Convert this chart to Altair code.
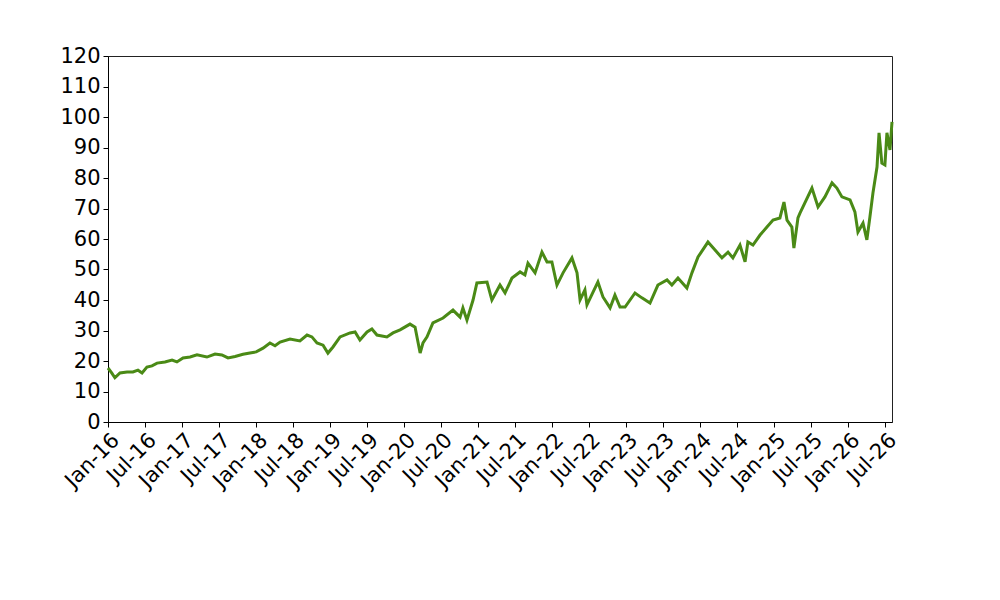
import altair as alt
import pandas as pd

dates = [
    "2016-01-01", "2016-01-20", "2016-02-04", "2016-02-29", "2016-04-04", "2016-05-03",
    "2016-05-28", "2016-06-17", "2016-07-11", "2016-08-05", "2016-08-30", "2016-10-08",
    "2016-11-12", "2016-12-06", "2017-01-05", "2017-02-09", "2017-03-15", "2017-05-03",
    "2017-06-12", "2017-07-16", "2017-08-15", "2017-09-19", "2017-10-28", "2017-12-01",
    "2018-01-01", "2018-02-04", "2018-03-10", "2018-04-04", "2018-04-29", "2018-06-17",
    "2018-08-05", "2018-09-09", "2018-10-03", "2018-10-28", "2018-11-27", "2018-12-21",
    "2019-01-15", "2019-02-19", "2019-04-09", "2019-05-04", "2019-05-28", "2019-07-02",
    "2019-07-26", "2019-08-20", "2019-10-08", "2019-11-07", "2019-12-12", "2020-01-30",
    "2020-02-24", "2020-03-20", "2020-04-03", "2020-04-23", "2020-05-22", "2020-07-11",
    "2020-08-29", "2020-10-03", "2020-10-17", "2020-11-06", "2020-12-06", "2020-12-25",
    "2021-02-13", "2021-03-09", "2021-04-18", "2021-05-13", "2021-06-16", "2021-07-26",
    "2021-08-19", "2021-09-03", "2021-10-08", "2021-11-11", "2021-12-06", "2021-12-30",
    "2022-01-24", "2022-02-23", "2022-04-08", "2022-05-03", "2022-05-18", "2022-06-11",
    "2022-06-21", "2022-07-21", "2022-08-14", "2022-09-08", "2022-10-13", "2022-11-06",
    "2022-12-01", "2022-12-26", "2023-02-13", "2023-03-19", "2023-04-28", "2023-06-06",
    "2023-07-21", "2023-08-14", "2023-09-13", "2023-10-27", "2023-11-21", "2023-12-21",
    "2024-02-08", "2024-03-14", "2024-04-17", "2024-05-17", "2024-06-10", "2024-07-15",
    "2024-08-09", "2024-08-23", "2024-09-17", "2024-10-22", "2024-11-25", "2024-12-25",
    "2025-01-28", "2025-02-17", "2025-03-04", "2025-03-28", "2025-04-07", "2025-04-27",
    "2025-05-07", "2025-07-05", "2025-08-04", "2025-09-07", "2025-10-12", "2025-11-05",
    "2025-11-30", "2026-01-09", "2026-02-02", "2026-02-17", "2026-03-14", "2026-04-02",
    "2026-04-17", "2026-05-02", "2026-05-22", "2026-06-01", "2026-06-15", "2026-06-30",
    "2026-07-10", "2026-07-25", "2026-08-04",
]

values = [
    17.7, 16.0, 14.5, 16.1, 16.4, 16.4,
    17.0, 16.1, 18.0, 18.4, 19.3, 19.7,
    20.3, 19.7, 21.0, 21.3, 22.0, 21.3,
    22.3, 22.0, 21.0, 21.5, 22.2, 22.6,
    23.0, 24.2, 25.9, 25.0, 26.2, 27.2,
    26.6, 28.5, 27.9, 25.9, 25.2, 22.6,
    24.6, 27.9, 29.2, 29.5, 26.9, 29.5,
    30.5, 28.5, 27.9, 29.2, 30.2, 32.1,
    31.1, 22.6, 25.9, 27.9, 32.5, 34.1,
    36.7, 34.4, 37.4, 33.4, 40.0, 45.6,
    45.9, 40.0, 44.9, 42.3, 47.2, 49.2,
    48.2, 52.1, 48.9, 55.7, 52.5, 52.5,
    44.9, 48.9, 53.8, 48.9, 40.0, 43.3,
    38.4, 42.6, 45.9, 41.0, 37.4, 41.6,
    37.7, 37.7, 42.3, 40.7, 39.0, 44.9,
    46.6, 44.9, 47.2, 43.9, 48.9, 54.1,
    59.0, 56.4, 53.8, 55.7, 53.8, 58.0,
    52.5, 59.0, 58.0, 61.3, 63.9, 66.2,
    66.9, 72.1, 66.2, 63.9, 57.0, 66.9,
    68.5, 76.7, 70.5, 73.8, 78.4, 76.7,
    73.8, 72.8, 68.9, 62.3, 65.2, 59.7,
    67.2, 75.1, 83.6, 94.8, 84.9, 84.3,
    94.8, 89.2, 98.4,
]

tick_years = list(range(2016, 2027))
y_ticks = list(range(0, 121, 10))

df = pd.DataFrame({"date": [d + "T00:00:00" for d in dates], "value": values})

x_tick_values = []
for yr in tick_years:
    x_tick_values.append(alt.DateTime(year=yr, month=1, date=1))
    x_tick_values.append(alt.DateTime(year=yr, month=7, date=1))

font = "DejaVu Sans"

chart = alt.Chart(df).mark_line(color="#4a8a16", strokeWidth=3).encode(
    x=alt.X(
        "date:T",
        scale=alt.Scale(domain=[alt.DateTime(year=2016, month=1, date=1),
                                alt.DateTime(year=2026, month=8, date=4)], nice=False),
        axis=alt.Axis(
            title=None, values=x_tick_values, format="%b-%y", labelAngle=-45,
            labelAlign="right", labelBaseline="top", labelFontSize=21, labelFont=font,
            labelColor="black", domainColor="black", tickColor="black", tickSize=5,
            labelPadding=2, grid=False, labelOverlap=False, labelBound=False,
            labelFlush=False,
        ),
    ),
    y=alt.Y(
        "value:Q",
        scale=alt.Scale(domain=[0, 120], nice=False, zero=True),
        axis=alt.Axis(
            title=None, values=y_ticks, labelFontSize=21, labelFont=font,
            labelColor="black", domainColor="black", tickColor="black", tickSize=5,
            labelPadding=3, grid=False, labelOverlap=False, labelFlush=False,
        ),
    ),
).properties(
    width=784, height=366,
    padding={"left": 100, "top": 48, "right": 100, "bottom": 170},
    autosize=alt.AutoSizeParams(type="none"),
).configure(background="white").configure_view(stroke="#222222", strokeWidth=1)

chart.save("out.html", embed_options={"renderer": "svg", "actions": False})
